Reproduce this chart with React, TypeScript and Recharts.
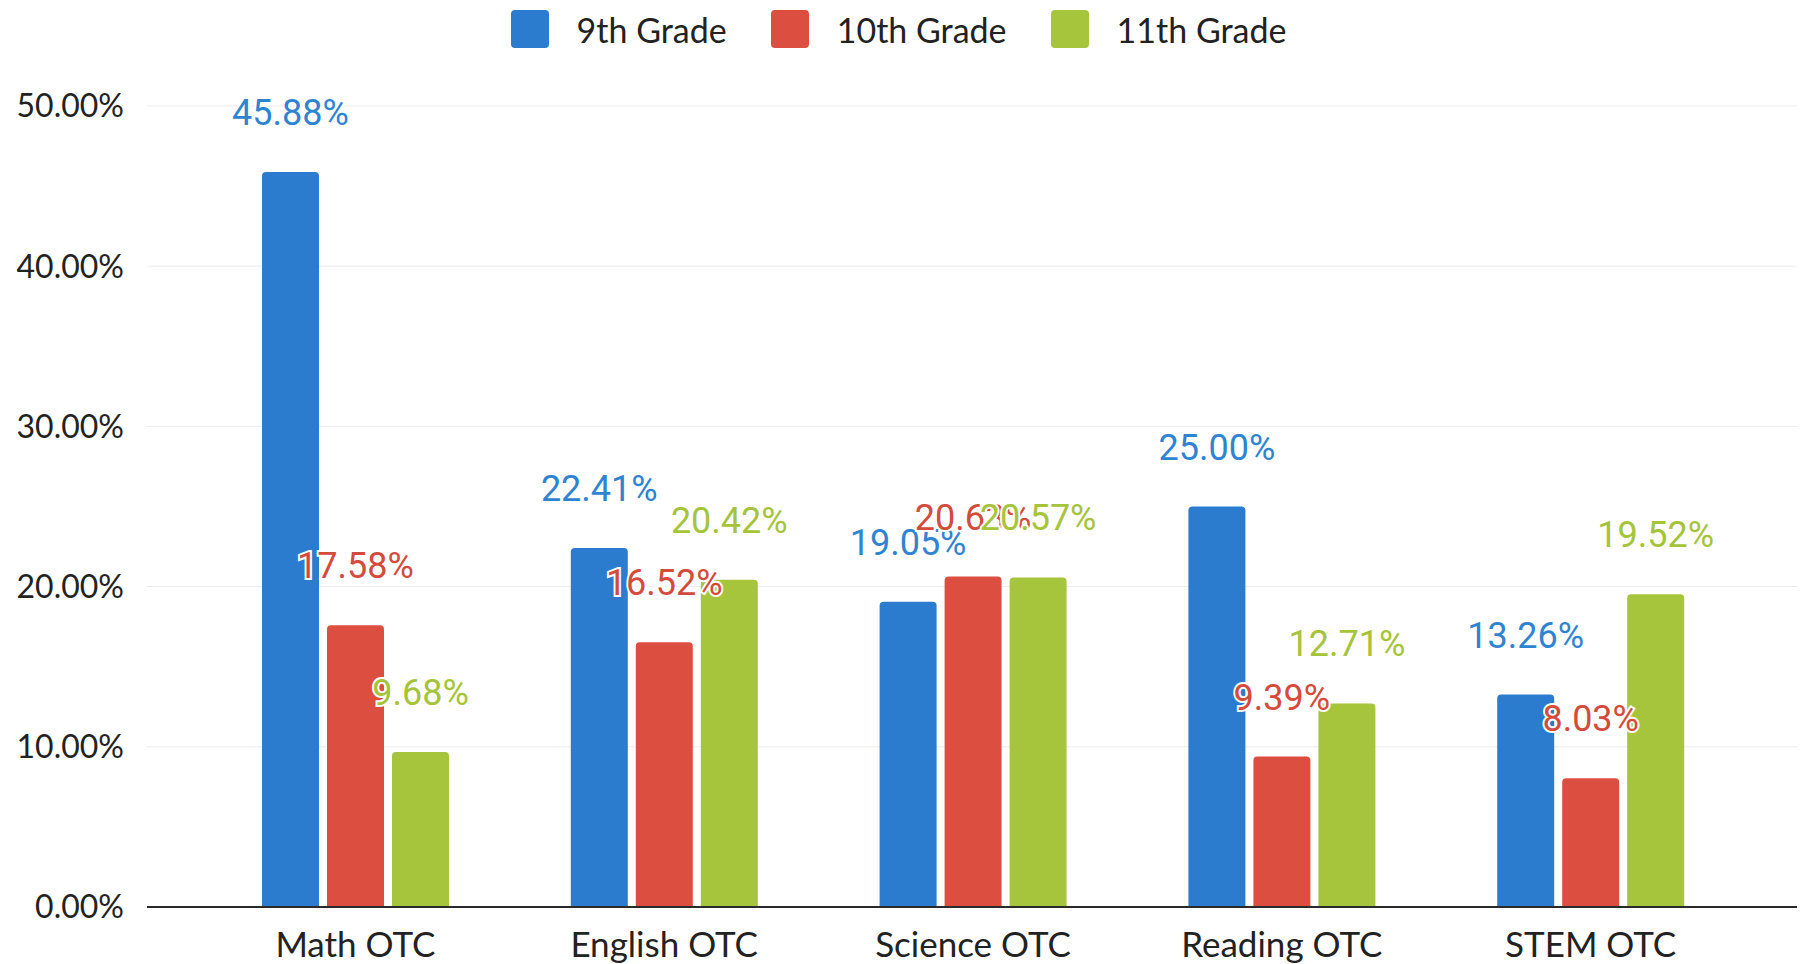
import { BarChart, Bar, XAxis, YAxis, CartesianGrid, Legend, LabelList } from 'recharts'

const categories = ['Math OTC', 'English OTC', 'Science OTC', 'Reading OTC', 'STEM OTC']
const grade9 = [45.88, 22.41, 19.05, 25.0, 13.26]
const grade10 = [17.58, 16.52, 20.63, 9.39, 8.03]
const grade11 = [9.68, 20.42, 20.57, 12.71, 19.52]
const yTicks = [0, 10, 20, 30, 40, 50]

const series = [
  { key: 'g9', name: '9th Grade', color: '#2b7ccf', text: '#2f84d2' },
  { key: 'g10', name: '10th Grade', color: '#dc4f40', text: '#d44a3b' },
  { key: 'g11', name: '11th Grade', color: '#a6c43c', text: '#a5c43a' },
]

const data = categories.map((c, i) => ({
  name: c,
  g9: grade9[i],
  g10: grade10[i],
  g11: grade11[i],
}))

const pct = (v: number) => `${Number(v).toFixed(2)}%`

function LegendBox() {
  return (
    <div style={{ height: 58, display: 'flex', justifyContent: 'center', alignItems: 'center', fontFamily: 'Lato', fontSize: 34, color: '#222' }}>
      {series.map((s) => (
        <span key={s.key} style={{ display: 'flex', alignItems: 'center', margin: '0 22px' }}>
          <span style={{ width: 38, height: 38, borderRadius: 4, background: s.color, display: 'inline-block', marginRight: 28 }} />
          {s.name}
        </span>
      ))}
    </div>
  )
}

export default function App() {
  return (
    <div style={{ position: 'absolute', left: 0, top: 0, background: '#fff' }}>
      <BarChart
        width={1800}
        height={964}
        data={data}
        margin={{ top: 48, right: 3, bottom: 0, left: 0 }}
        barSize={57}
        barGap={8}
      >
        <CartesianGrid vertical={false} stroke="#ececec" />
        <Legend verticalAlign="top" wrapperStyle={{ top: 0 }} content={() => <LegendBox />} />
        <XAxis
          dataKey="name"
          padding={{ left: 54, right: 52 }}
          height={57}
          tickLine={false}
          tickSize={0}
          tickMargin={25}
          axisLine={{ stroke: '#2a2a2a', strokeWidth: 2 }}
          tick={{ fontFamily: 'Lato', fontSize: 35, fill: '#222' }}
        />
        <YAxis
          width={147}
          domain={[0, 50]}
          ticks={yTicks}
          tickFormatter={pct}
          axisLine={false}
          tickLine={false}
          tickSize={0}
          tickMargin={23}
          tick={{ fontFamily: 'Lato', fontSize: 32, fill: '#222' }}
        />
        {series.map((s) => (
          <Bar key={s.key} dataKey={s.key} name={s.name} fill={s.color} radius={[4, 4, 0, 0]} isAnimationActive={false}>
            <LabelList
              dataKey={s.key}
              position="top"
              offset={47}
              formatter={(v: any) => pct(v)}
              style={{ fontFamily: 'Roboto', fontSize: 36, fill: s.text, stroke: '#fff', strokeWidth: 4, paintOrder: 'stroke' }}
            />
          </Bar>
        ))}
      </BarChart>
    </div>
  )
}
